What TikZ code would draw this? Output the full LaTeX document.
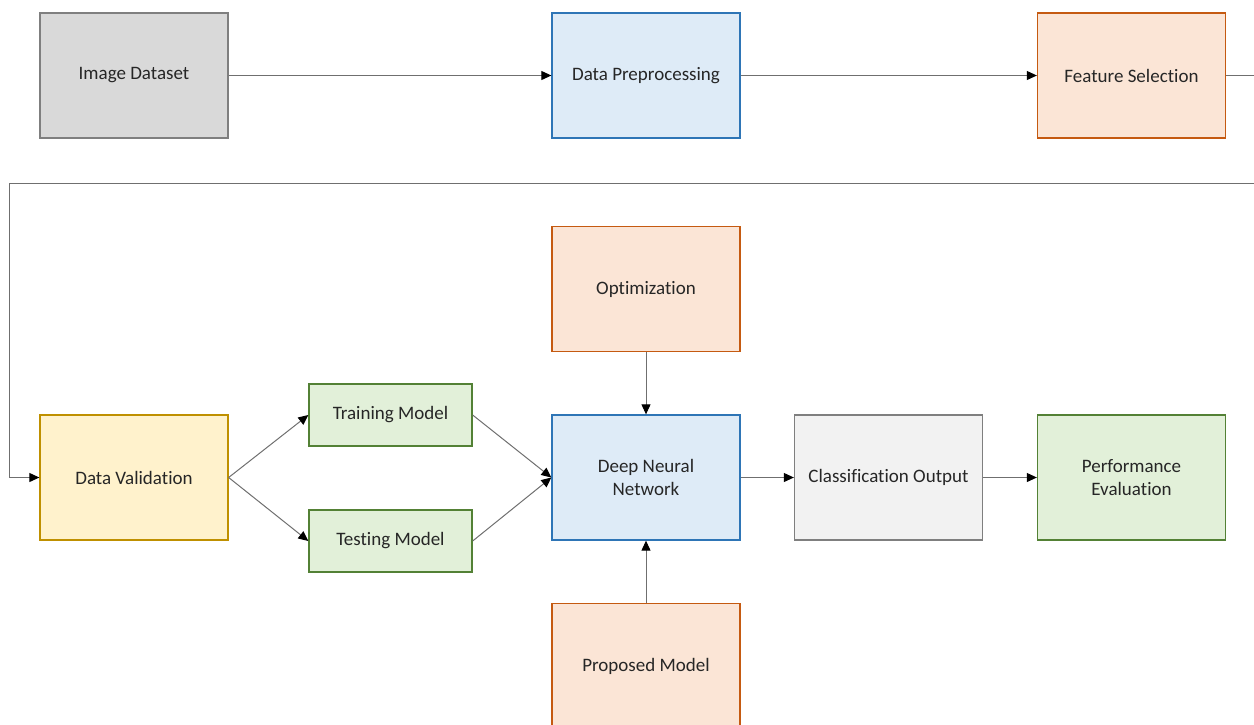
\documentclass[tikz,border=0pt]{standalone}
\usepackage{fontspec}
\setmainfont[Ligatures={NoCommon,NoRare,NoContextual}]{Carlito}
\usetikzlibrary{arrows.meta,positioning}
\definecolor{grayfill}{HTML}{D9D9D9}
\definecolor{graydraw}{HTML}{7F7F7F}
\definecolor{bluefill}{HTML}{DEEBF7}
\definecolor{bluedraw}{HTML}{2E75B6}
\definecolor{orangefill}{HTML}{FBE5D6}
\definecolor{orangedraw}{HTML}{C55A11}
\definecolor{yellowfill}{HTML}{FFF2CC}
\definecolor{yellowdraw}{HTML}{BF9000}
\definecolor{greenfill}{HTML}{E2F0D9}
\definecolor{greendraw}{HTML}{538135}
\definecolor{lightfill}{HTML}{F2F2F2}
\definecolor{linecol}{HTML}{6F6F6F}
\tikzset{
  box/.style={rectangle, line width=1.3pt, minimum width=188pt, minimum height=125pt, inner sep=0pt, align=center, font=\fontsize{19}{23}\selectfont, text=black!85},
  smallbox/.style={box, minimum width=163pt, minimum height=62pt},
  graybox/.style={fill=grayfill, draw=graydraw},
  bluebox/.style={fill=bluefill, draw=bluedraw},
  orangebox/.style={fill=orangefill, draw=orangedraw},
  yellowbox/.style={fill=yellowfill, draw=yellowdraw},
  greenbox/.style={fill=greenfill, draw=greendraw},
  lightbox/.style={fill=lightfill, draw=graydraw},
  conn/.style={draw=linecol, line width=1pt, -{Triangle[length=10pt,width=9pt,color=black,fill=black]}},
  plainconn/.style={draw=linecol, line width=1pt}
}
\begin{document}
\begin{tikzpicture}[x=1pt,y=-1pt]
\useasboundingbox (0,0) rectangle (1254,724);
\clip (0,0) rectangle (1254,724);
\node[box,graybox] (img) at (134,75.5) {Image Dataset};
\node[box,bluebox] (pre) at (646,75.5) {Data Preprocessing};
\node[box,orangebox] (fs) at (1131.5,75.5) {Feature Selection};
\node[box,orangebox] (opt) at (646,289) {Optimization};
\node[box,yellowbox] (dv) at (134,477.5) {Data Validation};
\node[smallbox,greenbox] (train) at (390.5,415) {Training Model};
\node[smallbox,greenbox] (test) at (390.5,541) {Testing Model};
\node[box,bluebox] (dnn) at (646,477.5) {Deep Neural\\Network};
\node[box,lightbox] (co) at (888.5,477.5) {Classification Output};
\node[box,greenbox] (pe) at (1131.5,477.5) {Performance\\Evaluation};
\node[box,orangebox] (pm) at (646,666) {Proposed Model};
\coordinate (r1) at (1270,75.5);
\coordinate (r2) at (1270,183);
\coordinate (l1) at (9,183);
\draw[conn] (img) -- (pre);
\draw[conn] (pre) -- (fs);
\draw[conn] (fs.east) -- (r1) -- (r2) -- (l1) |- (dv.west);
\draw[conn] (dv.east) -- (train.west);
\draw[conn] (dv.east) -- (test.west);
\draw[conn] (train.east) -- (dnn.west);
\draw[conn] (test.east) -- (dnn.west);
\draw[conn] (opt) -- (dnn);
\draw[conn] (pm) -- (dnn);
\draw[conn] (dnn) -- (co);
\draw[conn] (co) -- (pe);
\end{tikzpicture}
\end{document}
